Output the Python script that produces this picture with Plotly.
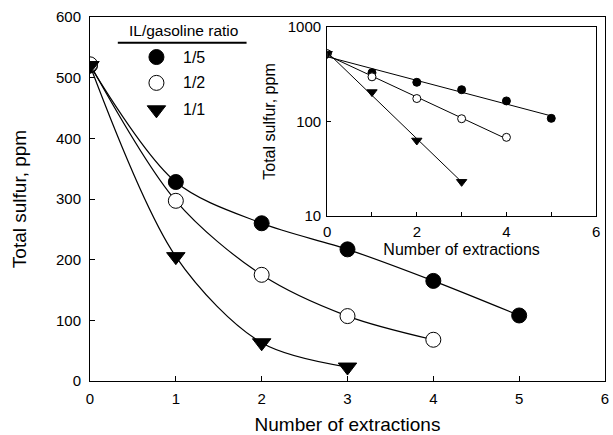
import numpy as np
import plotly.graph_objects as go

# Data
x_15 = [0, 1, 2, 3, 4, 5]
y_15 = [520, 328, 260, 217, 165, 108]
x_12 = [0, 1, 2, 3, 4]
y_12 = [522, 297, 175, 107, 68]
x_11 = [0, 1, 2, 3]
y_11 = [520, 205, 63, 23]
series_names = ["1/5", "1/2", "1/1"]
x_ticks = [0, 1, 2, 3, 4, 5, 6]
y_ticks = [0, 100, 200, 300, 400, 500, 600]

FONT = "Liberation Sans, Arial, sans-serif"
BLACK = "black"

series = [
    (x_15, y_15, "circle", BLACK, series_names[0]),
    (x_12, y_12, "circle", "white", series_names[1]),
    (x_11, y_11, "triangle-down", BLACK, series_names[2]),
]

fig = go.Figure()

# Main chart: smooth curves + markers
for xs, ys, sym, fill, name in series:
    fig.add_trace(go.Scatter(
        x=xs, y=ys, mode="lines", line=dict(color=BLACK, width=1.2, shape="spline", smoothing=0.9),
        showlegend=False, xaxis="x", yaxis="y", hoverinfo="skip"))
for xs, ys, sym, fill, name in series:
    fig.add_trace(go.Scatter(
        x=xs, y=ys, mode="markers",
        marker=dict(symbol=sym, size=15 if sym == "circle" else 16, color=fill,
                    line=dict(color=BLACK, width=1)),
        showlegend=False, xaxis="x", yaxis="y"))

# Inset: log-linear fit lines + markers
for xs, ys, sym, fill, name in series:
    coef = np.polyfit(np.array(xs, float), np.log10(np.array(ys, float)), 1)
    xf = np.array([xs[0], xs[-1]], float)
    yf = 10 ** np.polyval(coef, xf)
    fig.add_trace(go.Scatter(
        x=xf, y=yf, mode="lines", line=dict(color=BLACK, width=1),
        showlegend=False, xaxis="x2", yaxis="y2", hoverinfo="skip"))
    fig.add_trace(go.Scatter(
        x=xs, y=ys, mode="markers",
        marker=dict(symbol=sym, size=8 if sym == "circle" else 9, color=fill,
                    line=dict(color=BLACK, width=1)),
        showlegend=False, xaxis="x2", yaxis="y2"))

# Legend (manual)
leg_x_marker = 0.129
leg_x_text = 0.177
leg_rows = [0.890, 0.819, 0.745]
for (xs, ys, sym, fill, name), yy in zip(series, leg_rows):
    fig.add_trace(go.Scatter(
        x=[leg_x_marker], y=[yy], mode="markers",
        marker=dict(symbol=sym, size=15 if sym == "circle" else 16, color=fill,
                    line=dict(color=BLACK, width=1)),
        showlegend=False, xaxis="x3", yaxis="y3", hoverinfo="skip"))
    fig.add_annotation(x=leg_x_text, y=yy, xref="x3", yref="y3", text=name,
                       showarrow=False, xanchor="left", yanchor="middle",
                       font=dict(family=FONT, size=16, color=BLACK))
fig.add_annotation(x=0.181, y=0.962, xref="x3", yref="y3", text="IL/gasoline ratio",
                   showarrow=False, xanchor="center", yanchor="middle",
                   font=dict(family=FONT, size=15.5, color=BLACK))
fig.add_shape(type="line", xref="x3", yref="y3", x0=0.054, x1=0.304, y0=0.929, y1=0.929,
              line=dict(color=BLACK, width=2))

axis_common = dict(showline=True, linecolor=BLACK, linewidth=1, mirror=True,
                   ticks="inside", tickcolor=BLACK, ticklen=5, showgrid=False,
                   zeroline=False, tickfont=dict(family=FONT, size=15, color=BLACK))

fig.update_layout(
    width=613, height=435,
    margin=dict(l=90, r=4, t=17, b=54),
    paper_bgcolor="white", plot_bgcolor="rgba(0,0,0,0)",
    showlegend=False,
    xaxis=dict(**axis_common, range=[0, 6], tickvals=x_ticks, domain=[0, 1], anchor="y",
               ticklabelstandoff=4,
               title=dict(text="Number of extractions", font=dict(family=FONT, size=19, color=BLACK), standoff=11)),
    yaxis=dict(**axis_common, range=[0, 600], tickvals=y_ticks, domain=[0, 1], anchor="x",
               ticklabelstandoff=5,
               title=dict(text="Total sulfur, ppm", font=dict(family=FONT, size=19, color=BLACK), standoff=24)),
    xaxis2=dict(showline=True, linecolor=BLACK, linewidth=1, mirror=True,
                ticks="inside", tickcolor=BLACK, ticklen=4, showgrid=False, zeroline=False,
                range=[0, 6], tickvals=x_ticks, ticktext=["0", "", "2", "", "4", "", "6"],
                tickfont=dict(family=FONT, size=15, color=BLACK), ticklabelstandoff=2,
                domain=[0.4605, 0.9827], anchor="y2",
                title=dict(text="Number of extractions", font=dict(family=FONT, size=16, color=BLACK), standoff=4)),
    yaxis2=dict(showline=True, linecolor=BLACK, linewidth=1, mirror=True,
                ticks="inside", tickcolor=BLACK, ticklen=4, showgrid=False, zeroline=False,
                type="log", range=[1, 3], tickvals=[10, 100, 1000], ticktext=["10", "100", "1000"],
                tickfont=dict(family=FONT, size=15, color=BLACK), ticklabelstandoff=2,
                domain=[0.4533, 0.9725], anchor="x2",
                title=dict(text="Total sulfur, ppm", font=dict(family=FONT, size=16, color=BLACK), standoff=8)),
    xaxis3=dict(range=[0, 1], domain=[0, 1], visible=False, fixedrange=True, anchor="y3"),
    yaxis3=dict(range=[0, 1], domain=[0, 1], visible=False, fixedrange=True, anchor="x3"),
)

fig.write_html("out.html", config={"displayModeBar": False},
               post_script="document.body.style.margin='0';document.body.style.overflow='hidden';")
